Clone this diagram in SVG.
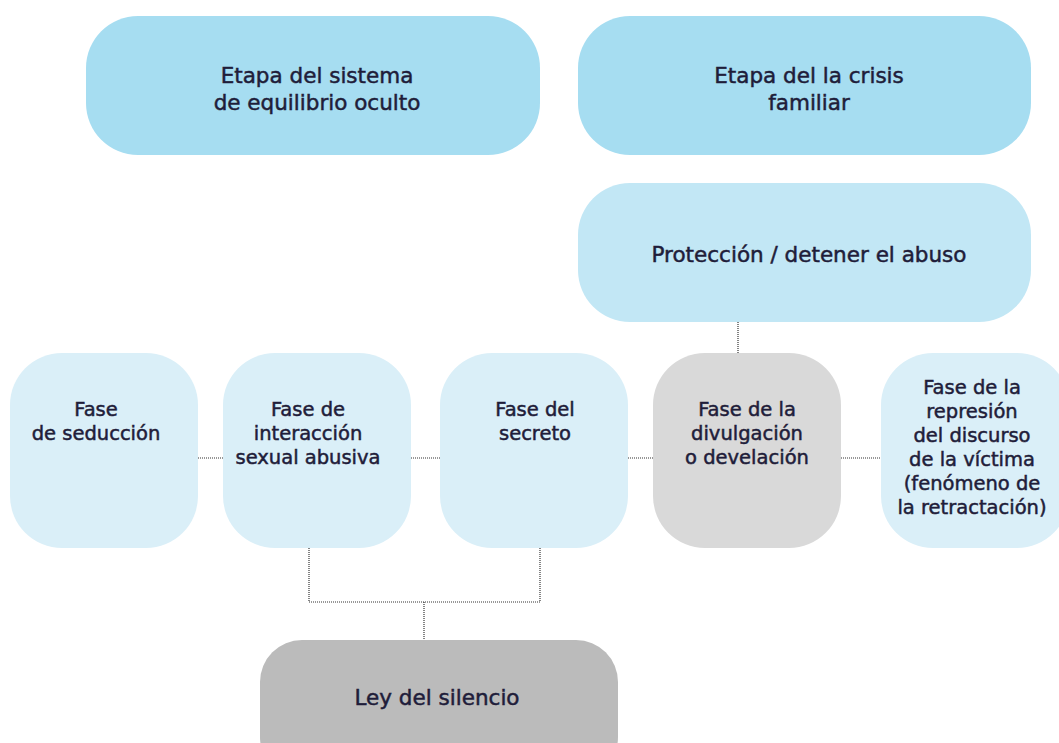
<svg xmlns="http://www.w3.org/2000/svg" width="1059" height="743" viewBox="0 0 1059 743">
<style>
text{font-family:"DejaVu Sans","Liberation Sans",sans-serif;font-size:19.5px;fill:#1f1d3a;stroke:#1f1d3a;stroke-width:0.5;text-anchor:middle}
text.big{font-size:21.5px}
.top{fill:#a6ddf1}
.prot{fill:#c2e7f5}
.phase{fill:#daeff8}
.grey{fill:#d9d9d9}
.dark{fill:#bbbbbb}
.conn{fill:none;stroke:#333;stroke-width:1.2;stroke-dasharray:1 1}
</style>
<rect width="1059" height="743" fill="#fff"/>
<g id="connectors">
<path class="conn" d="M198 458H223M411 458H440M628 458H653M841 458H881"/>
<path class="conn" d="M738 322V353"/>
<path class="conn" d="M309 548V602H540V548M424 602V640"/>
</g>
<g id="n-etapa1"><rect class="top" x="86" y="16" width="454" height="139" rx="52"/>
<text class="big" x="317" y="83">Etapa del sistema</text><text class="big" x="317" y="110">de equilibrio oculto</text></g>
<g id="n-etapa2"><rect class="top" x="578" y="16" width="453" height="139" rx="52"/>
<text class="big" x="809" y="83">Etapa del la crisis</text><text class="big" x="809" y="110">familiar</text></g>
<g id="n-proteccion"><rect class="prot" x="578" y="183" width="453" height="139" rx="52"/>
<text class="big" x="809" y="262">Protección / detener el abuso</text></g>
<g id="n-seduccion"><rect class="phase" x="10" y="353" width="188" height="195" rx="52"/>
<text x="96" y="416">Fase</text><text x="96" y="440">de seducción</text></g>
<g id="n-interaccion"><rect class="phase" x="223" y="353" width="188" height="195" rx="52"/>
<text x="308" y="416">Fase de</text><text x="308" y="440">interacción</text><text x="308" y="464">sexual abusiva</text></g>
<g id="n-secreto"><rect class="phase" x="440" y="353" width="188" height="195" rx="52"/>
<text x="535" y="416">Fase del</text><text x="535" y="440">secreto</text></g>
<g id="n-divulgacion"><rect class="grey" x="653" y="353" width="188" height="195" rx="52"/>
<text x="747" y="416">Fase de la</text><text x="747" y="440">divulgación</text><text x="747" y="464">o develación</text></g>
<g id="n-represion"><rect class="phase" x="881" y="353" width="188" height="195" rx="52"/>
<text x="972" y="394">Fase de la</text><text x="972" y="418">represión</text><text x="972" y="442">del discurso</text><text x="972" y="466">de la víctima</text><text x="972" y="490">(fenómeno de</text><text x="972" y="514">la retractación)</text></g>
<g id="n-ley"><rect class="dark" x="260" y="640" width="358" height="139" rx="42"/>
<text class="big" x="437" y="705">Ley del silencio</text></g>
</svg>
